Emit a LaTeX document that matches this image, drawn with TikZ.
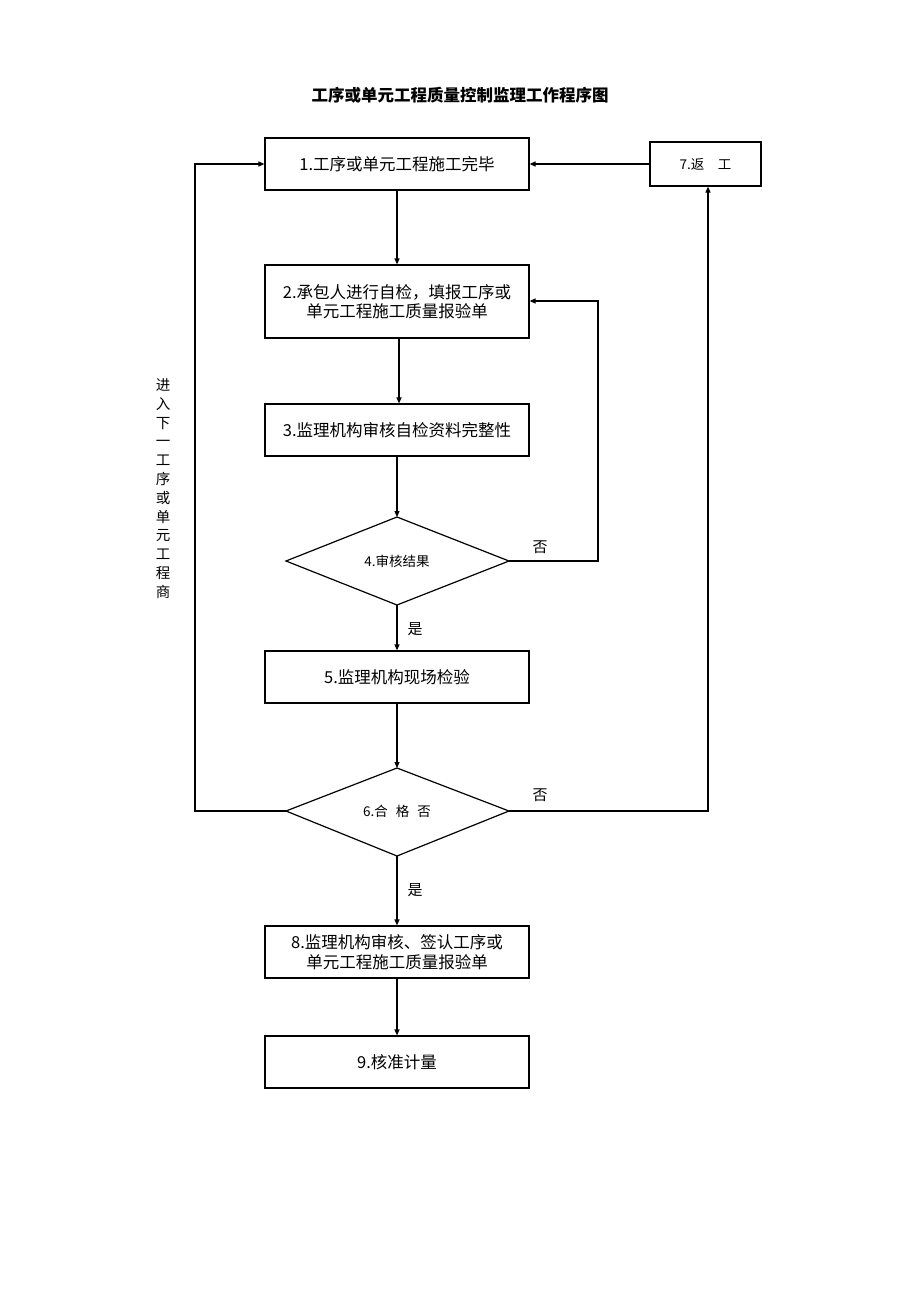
\documentclass[tikz,border=0pt]{standalone}
\usepackage{fontspec}
\setmainfont{Noto Sans CJK SC}
\usetikzlibrary{arrows.meta}
\tikzset{
  box/.style={draw, line width=1.2pt, minimum width=264pt, minimum height=52pt, inner sep=0pt, align=center, font=\fontsize{16.5}{19.5}\selectfont},
  diatext/.style={font=\fontsize{13.5}{16}\selectfont, inner sep=0pt},
  dialine/.style={draw, line width=1.2pt},
  conn/.style={line width=1.2pt, -{Triangle[length=6pt,width=5pt]}},
  lbl/.style={font=\fontsize{15}{18}\selectfont, inner sep=0pt}
}
\begin{document}
\begin{tikzpicture}[x=1pt,y=-1pt]
\useasboundingbox[fill=white] (0,0) rectangle (920,1302);
\node[font=\bfseries\fontsize{16.5}{20}\selectfont] (title) at (460,95) {工序或单元工程质量控制监理工作程序图};
\node[box] (b1) at (397,164) {1.工序或单元工程施工完毕};
\node[box, minimum width=111pt, minimum height=44pt, font=\fontsize{13.5}{16}\selectfont] (b7) at (705.5,164) {7.返\hspace{1em}工};
\node[box, minimum height=73pt] (b2) at (397,301.5) {2.承包人进行自检，填报工序或\\单元工程施工质量报验单};
\node[box] (b3) at (397,430) {3.监理机构审核自检资料完整性};
\path[dialine] (286,561) coordinate (d4l) -- (397,517) coordinate (d4t) -- (509,561) coordinate (d4r) -- (397,605) coordinate (d4b) -- cycle;
\node[diatext] (t4) at (397,561) {4.审核结果};
\node[box] (b5) at (397,677) {5.监理机构现场检验};
\path[dialine] (286,811) coordinate (d6l) -- (397,768) coordinate (d6t) -- (509,811) coordinate (d6r) -- (397,856) coordinate (d6b) -- cycle;
\node[diatext] (t6) at (397,811) {6.合\hspace{0.6em}格\hspace{0.6em}否};
\node[box] (b8) at (397,952) {8.监理机构审核、签认工序或\\单元工程施工质量报验单};
\node[box] (b9) at (397,1062) {9.核准计量};

\draw[conn] (b1) -- (b2);
\draw[conn] (b2.south -| 399,0) -- (b3.north -| 399,0);
\draw[conn] (b3) -- (d4t);
\draw[conn] (d4b) -- (b5);
\draw[conn] (b5) -- (d6t);
\draw[conn] (d6b) -- (b8);
\draw[conn] (b8) -- (b9);
\draw[conn] (b7) -- (b1);
\coordinate (c4) at (598,301);
\draw[conn] (d4r) -| (c4) -- (b2.east |- c4);
\draw[conn] (d6r) -| (b7.south -| 708,0);
\coordinate (c6) at (195,164);
\draw[conn] (d6l) -| (c6) -- (b1.west);

\node[lbl] (n4) at (540,547) {否};
\node[lbl] (y4) at (415,629) {是};
\node[lbl] (n6) at (540,795) {否};
\node[lbl] (y6) at (415,890) {是};
\node[font=\fontsize{14.5}{18.8}\selectfont, align=center, inner sep=0pt] (side) at (163,488.5) {进\\入\\下\\一\\工\\序\\或\\单\\元\\工\\程\\商};
\end{tikzpicture}
\end{document}
